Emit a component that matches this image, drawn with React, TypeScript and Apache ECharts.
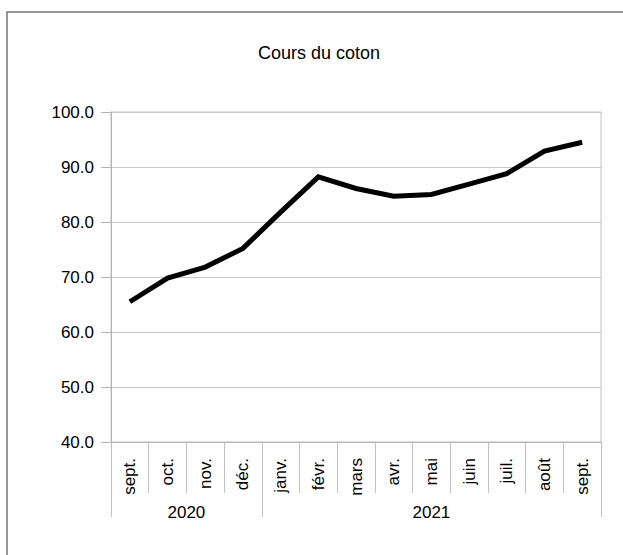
import React, { useEffect, useRef } from "react";
import * as echarts from "echarts";

const months = ["sept.", "oct.", "nov.", "déc.", "janv.", "févr.", "mars", "avr.", "mai", "juin", "juil.", "août", "sept."];
const prices = [65.5, 69.8, 71.8, 75.2, 81.8, 88.2, 86.1, 84.7, 85.0, 86.9, 88.8, 92.9, 94.5];
const years = ["2020", "2021"];
const yearBoundaries = [0, 4, 13];
const yearCenters = [2, 8.5];
const yTicks = [40, 50, 60, 70, 80, 90, 100];

const FONT = "Liberation Sans, Arial, sans-serif";

export default function App() {
  const ref = useRef<HTMLDivElement>(null);
  useEffect(() => {
    if (!ref.current) return;
    const chart = echarts.init(ref.current, null, { renderer: "svg" });
    chart.setOption({
      animation: false,
      backgroundColor: "#ffffff",
      title: {
        text: "Cours du coton",
        left: 253,
        top: 39,
        textStyle: { fontFamily: FONT, fontSize: 18, fontWeight: "normal", color: "#000" },
      },
      graphic: [
        {
          type: "rect",
          shape: { x: 7, y: 12, width: 800, height: 800 },
          style: { fill: "none", stroke: "#777", lineWidth: 1.5 },
          silent: true,
        },
      ],
      grid: {
        left: 111,
        top: 112,
        right: 22,
        bottom: 113,
        show: true,
        borderColor: "#c0c0c0",
        borderWidth: 1,
        containLabel: false,
      },
      xAxis: [
        {
          type: "category",
          data: months,
          boundaryGap: true,
          position: "bottom",
          axisLine: { show: true, lineStyle: { color: "#b3b3b3", width: 1 } },
          axisTick: { show: true, interval: 0, alignWithLabel: false, length: 51, lineStyle: { color: "#c0c0c0" } },
          axisLabel: {
            interval: 0,
            rotate: 90,
            margin: 16,
            fontFamily: FONT,
            fontSize: 17,
            color: "#000",
          },
          splitLine: { show: false },
        },
        {
          type: "value",
          min: 0,
          max: 13,
          position: "bottom",
          axisLine: { show: false },
          axisTick: {
            show: true,
            length: 75,
            customValues: yearBoundaries,
            lineStyle: { color: "#c0c0c0" },
          },
          axisLabel: {
            customValues: yearCenters,
            margin: 62,
            fontFamily: FONT,
            fontSize: 17,
            color: "#000",
            formatter: (v: number) => {
              const i = yearCenters.indexOf(v);
              return i >= 0 ? years[i] : "";
            },
          },
          splitLine: { show: false },
        },
      ],
      yAxis: {
        type: "value",
        min: yTicks[0],
        max: yTicks[yTicks.length - 1],
        interval: 10,
        axisLine: { show: true, lineStyle: { color: "#b3b3b3", width: 1 } },
        axisTick: { show: true, length: 10, lineStyle: { color: "#b3b3b3" } },
        axisLabel: {
          margin: 17,
          fontFamily: FONT,
          fontSize: 17,
          color: "#000",
          formatter: (v: number) => v.toFixed(1),
        },
        splitLine: { show: true, lineStyle: { color: "#c8c8c8", width: 1 } },
      },
      series: [
        {
          type: "line",
          xAxisIndex: 0,
          data: prices,
          showSymbol: false,
          symbol: "none",
          lineStyle: { color: "#000", width: 5, join: "miter" },
        },
      ],
    });
    return () => chart.dispose();
  }, []);
  return <div ref={ref} style={{ position: "fixed", left: 0, top: 0, width: 623, height: 555 }} />;
}
